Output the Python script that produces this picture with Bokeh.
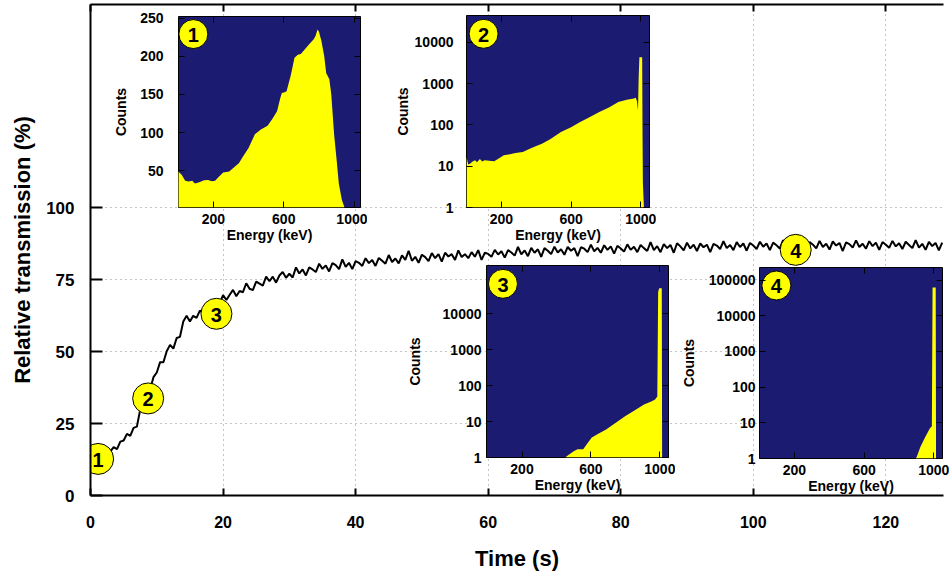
from bokeh.plotting import figure
from bokeh.models import Range1d, FixedTicker, LinearAxis, NumeralTickFormatter, CustomLabelingPolicy
from bokeh.layouts import column
from bokeh.core.properties import value
from bokeh.embed import file_html
from bokeh.resources import INLINE

# ---------------- data ----------------
t0, dt = 1.0, 0.5  # first sample time and sampling step (s)
transmission = [
    12.2, 12.3, 14.1, 13.4, 15.3, 16.8, 16.1, 18.7, 19.1, 21.4, 20.7, 23.5, 23.9, 29.8, 30.8, 34.9,
    36.9, 41.1, 42.7, 46.3, 46.3, 50.1, 52.3, 51.0, 54.7, 55.1, 60.4, 62.4, 60.4, 62.4, 61.7, 64.2,
    63.4, 64.8, 66.5, 64.8, 67.5, 66.8, 69.6, 67.9,
    69.7, 71.4, 69.2, 71.0, 70.6, 73.7, 71.8, 71.3, 74.3, 73.6, 72.9, 76.0, 74.4, 76.0, 73.9, 76.4,
    77.6, 75.6, 77.0, 75.7, 79.2, 77.1, 78.5, 76.4, 79.2, 78.5, 77.6, 80.5, 78.7, 79.9, 77.8, 80.7,
    80.0, 78.6, 82.0, 79.4, 80.8, 78.6, 81.4,
    80.8, 79.7, 82.4, 80.7, 81.8, 79.7, 82.5, 81.5, 80.5, 83.5, 81.1, 82.3, 80.6, 83.4, 81.8, 85.0,
    81.5, 82.9, 80.8, 83.6, 82.8, 81.4, 84.2, 82.4, 83.8, 81.2, 84.3, 83.0, 83.8, 81.8, 85.1, 82.8,
    83.8, 82.4, 84.5, 82.9, 85.2, 81.8, 84.3, 83.9,
    82.9, 85.3, 83.7, 84.8, 82.6, 85.2, 84.4, 83.3, 86.3, 83.7, 85.1, 83.1, 86.0, 84.3, 85.5, 82.9,
    85.9, 85.0, 83.8, 86.4, 84.4, 85.5, 83.6, 86.3, 85.0, 85.9, 83.1, 86.2, 85.7, 84.5, 87.1, 84.8,
    86.0, 84.3, 86.9, 85.3, 86.5, 84.0, 86.7, 85.8,
    84.7, 87.2, 85.3, 86.4, 84.5, 87.0, 85.9, 84.9, 88.0, 85.2, 86.6, 84.5, 87.3, 85.9, 87.0, 84.3,
    87.6, 86.5, 85.1, 87.8, 85.8, 87.1, 84.9, 87.5, 86.2, 87.1, 84.5, 87.4, 86.8, 85.6, 88.3, 85.9,
    87.0, 85.2, 88.0, 86.3, 87.5, 85.0, 87.7, 86.8,
    85.6, 88.1, 86.4, 87.5, 85.2, 87.8, 86.9, 85.8, 88.7, 86.2, 87.5, 85.5, 88.3, 86.6, 87.7, 85.1,
    88.0, 87.1, 85.8, 88.4, 86.3, 87.4, 85.4, 88.2, 86.8, 87.7, 84.9, 87.9, 87.3, 86.1, 88.6, 86.3,
    87.4, 85.7, 88.3, 86.6, 87.8, 85.3, 88.0, 87.1,
    86.0, 88.4, 86.5, 87.6, 85.6, 88.1, 87.0, 85.9, 88.7, 86.1, 87.4, 85.3, 88.1, 86.6, 87.7, 85.1,
    87.8,
]
time_ticks = [0, 20, 40, 60, 80, 100, 120]
trans_ticks = [0, 25, 50, 75, 100]
badge_labels = ["1", "2", "3", "4"]
badge_t = [1.15, 8.7, 19.0, 106.4]
badge_v = [12.7, 33.7, 63.1, 85.3]

energy_ticks = [200, 600, 1000]

spec1_energy = [0, 20, 40, 60, 80, 95, 120, 147, 170, 192, 210, 230, 256, 290, 328, 345, 364, 400,
                436, 470, 508, 535, 562, 580, 589, 605, 616, 640, 661, 680, 697, 720, 742, 769, 780,
                792, 800, 814, 830, 841, 859, 870, 886, 900, 913, 930, 945, 960, 1040]
spec1_counts = [49, 45, 37, 36, 37, 33.5, 35, 37.8, 38, 36.5, 37, 42, 47.8, 49, 56.5, 60, 67, 80,
                98, 104, 109, 118, 128, 145, 152, 153, 154, 175, 198, 202, 203, 209, 215, 222, 226,
                235, 232, 220, 200, 178, 170, 150, 98, 65, 33, 12, 2, 0, 0]
counts1_ticks = [50, 100, 150, 200, 250]

spec2_energy = [0, 10, 22, 35, 49, 60, 77, 90, 104, 130, 159, 185, 214, 250, 280, 323, 360, 400, 433,
                480, 542, 600, 652, 700, 762, 820, 871, 920, 960, 971, 978, 984, 988, 992, 1008,
                1010, 1012, 1018, 1050]
spec2_counts = [16.8, 11, 11.6, 13, 14, 12.5, 15, 13, 14, 13.5, 13.2, 15.5, 18.5, 19.5, 21, 22, 26,
                31, 35, 45, 68, 88, 118, 150, 206, 270, 362, 410, 440, 460, 380, 225, 1500, 4400,
                4400, 60, 4, 1, 0]
counts2_ticks = [1, 10, 100, 1000, 10000]

spec3_energy = [-6, 450, 467, 500, 522, 555, 580, 605, 640, 688, 740, 798, 850, 908, 950, 972, 985,
                990, 996, 1011, 1013, 1050]
spec3_counts = [0, 0, 1.16, 1.5, 1.7, 1.7, 2.5, 3.6, 4.5, 6, 9, 14, 20, 30, 36, 41, 50, 40000, 51000,
                51000, 0, 0]
counts3_ticks = [1, 10, 100, 1000, 10000]

spec4_energy = [0, 895, 902, 923, 951, 978, 989, 993, 1011, 1013, 1050]
spec4_counts = [0, 0, 1.1, 2.1, 4, 7, 8, 62000, 62000, 0, 0]
counts4_ticks = [1, 10, 100, 1000, 10000, 100000]

# inset badge positions (energy, counts)
inset_badge_e = [86.5, 98, 89.6, 97]
inset_badge_c = [229, 16200, 68000, 70200]

# ---------------- style ----------------
FONT = "Liberation Sans"
NAVY = "#1b1b72"
YELLOW = "#ffff00"


def no_labels():
    return CustomLabelingPolicy(code="""
        const result = new Set()
        return result
    """)


p = figure(width=950, height=581, x_range=Range1d(0, 128.7), y_range=Range1d(0, 170.5),
           output_backend="svg", toolbar_location=None,
           min_border_left=90, min_border_right=0, min_border_top=4, min_border_bottom=86,
           outline_line_color=None, x_axis_label="Time (s)",
           y_axis_label="Relative transmission (%)")

xa, ya = p.xaxis[0], p.yaxis[0]
xa.ticker = FixedTicker(ticks=time_ticks)
ya.ticker = FixedTicker(ticks=trans_ticks)
for ax in (xa, ya):
    ax.axis_line_width = 2
    ax.major_tick_line_width = 2
    ax.major_tick_out = 0
    ax.minor_tick_line_color = None
    ax.major_label_text_font = FONT
    ax.major_label_text_font_style = "bold"
    ax.major_label_text_font_size = "17px"
    ax.major_label_text_color = "black"
    ax.axis_label_text_font = FONT
    ax.axis_label_text_font_style = "bold"
    ax.axis_label_text_font_size = "22px"
    ax.axis_label_text_color = "black"
xa.major_label_text_font_size = "16px"
xa.major_tick_in = 7
xa.major_label_standoff = 20
xa.axis_label_standoff = 15
ya.major_tick_in = 12
ya.major_label_standoff = 16
ya.axis_label_standoff = 8

top = LinearAxis(ticker=FixedTicker(ticks=time_ticks), major_label_text_font_size="1px",
                 major_label_policy=no_labels(),
                 major_label_standoff=0, major_tick_in=7, major_tick_out=0,
                 minor_tick_line_color=None, axis_line_width=2, major_tick_line_width=2)
p.add_layout(top, "above")

p.xgrid.ticker = FixedTicker(ticks=time_ticks)
p.ygrid.ticker = FixedTicker(ticks=trans_ticks)
p.grid.grid_line_color = "#8a8a8a"
p.grid.grid_line_dash = "1 4"
p.grid.grid_line_width = 1

time = [t0 + dt * i for i in range(len(transmission))]
p.line(time, transmission, line_color="black", line_width=2)
p.scatter(badge_t, badge_v, size=31, fill_color=YELLOW, line_color="black", line_width=1)
p.text(badge_t, badge_v, text=badge_labels, text_align="center", text_baseline="middle",
       text_font=value(FONT), text_font_style="bold", text_font_size="20px", y_offset=1)


def make_inset(energy, counts, xr, yr, log, yticks, be, bc, label, fw, fh, tick_so, label_so):
    f = figure(width=85 + fw + 3, height=8 + fh + 45, x_range=Range1d(*xr), y_range=Range1d(*yr),
               y_axis_type="log" if log else "linear", output_backend="svg", toolbar_location=None,
               min_border_left=85, min_border_right=3, min_border_top=8, min_border_bottom=45,
               background_fill_color=NAVY, border_fill_color=None, border_fill_alpha=0,
               outline_line_color="black", outline_line_width=1,
               x_axis_label="Energy (keV)", y_axis_label="Counts")
    f.grid.visible = False
    floor = yr[0]
    c = [max(v, floor) for v in counts]
    f.varea(x=energy, y1=floor, y2=c, fill_color=YELLOW)
    ix, iy = f.xaxis[0], f.yaxis[0]
    ix.ticker = FixedTicker(ticks=energy_ticks)
    iy.ticker = FixedTicker(ticks=yticks)
    iy.formatter = NumeralTickFormatter(format="0")
    for ax in (ix, iy):
        ax.axis_line_color = None
        ax.major_tick_in = 6
        ax.major_tick_out = 0
        ax.minor_tick_line_color = None
        ax.major_tick_line_color = "black"
        ax.major_label_text_font = FONT
        ax.major_label_text_font_style = "bold"
        ax.major_label_text_font_size = "14px"
        ax.major_label_text_color = "black"
        ax.axis_label_text_font = FONT
        ax.axis_label_text_font_style = "bold"
        ax.axis_label_text_font_size = "14px"
        ax.axis_label_text_color = "black"
    ix.major_label_standoff = 6
    ix.axis_label_standoff = 0
    iy.major_label_standoff = tick_so
    iy.axis_label_standoff = label_so
    for loc, tk in (("above", energy_ticks), ("right", yticks)):
        m = LinearAxis(ticker=FixedTicker(ticks=tk), major_label_text_font_size="1px",
                       major_label_policy=no_labels(),
                       major_label_standoff=0, major_tick_in=6, major_tick_out=0,
                       minor_tick_line_color=None, axis_line_color=None,
                       major_tick_line_color="black")
        f.add_layout(m, loc)
    f.scatter([be], [bc], size=29, fill_color=YELLOW, line_color="black", line_width=1)
    f.text([be], [bc], text=[label], text_align="center", text_baseline="middle",
           text_font=value(FONT), text_font_style="bold", text_font_size="20px", y_offset=1)
    return f


i1 = make_inset(spec1_energy, spec1_counts, (2, 1036), (2, 252), False, counts1_ticks,
                inset_badge_e[0], inset_badge_c[0], "1", 191, 191, 15, 8)
i2 = make_inset(spec2_energy, spec2_counts, (0, 1050), (1, 45000), True, counts2_ticks,
                inset_badge_e[1], inset_badge_c[1], "2", 192, 192, 13, 1)
i3 = make_inset(spec3_energy, spec3_counts, (-6, 1050), (1, 220000), True, counts3_ticks,
                inset_badge_e[2], inset_badge_c[2], "3", 191, 192, 5, 17)
i4 = make_inset(spec4_energy, spec4_counts, (0, 1050), (1, 224000), True, counts4_ticks,
                inset_badge_e[3], inset_badge_c[3], "4", 192, 191, 4, 9)

# placement of the inset figures (left, top) on the page
positions = [(88, 8), (376, 7), (396, 257), (669, 259)]
for f, (l, t) in zip((i1, i2, i3, i4), positions):
    f.styles = {"position": "absolute", "left": f"{l}px", "top": f"{t}px"}

root = column(p, i1, i2, i3, i4)
open("out.html", "w").write(file_html(root, INLINE))
